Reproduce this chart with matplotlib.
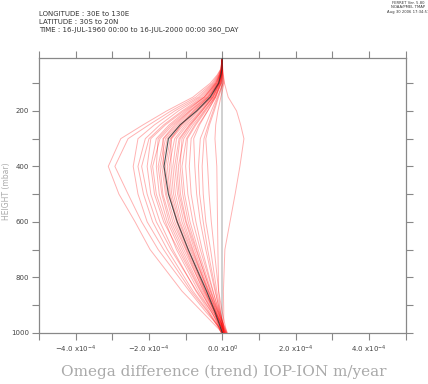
import matplotlib
matplotlib.use("Agg")
import matplotlib.pyplot as plt
import numpy as np

# pressure levels (mbar) for every profile
levels = [1000, 925, 850, 700, 600, 500, 400, 300, 250, 200, 150, 100, 70, 50, 10]

# omega difference trend profiles, units of 1e-4 m/year (one row per member)
profiles_e4 = [
    [0.00, -0.55, -1.10, -1.97, -2.38, -2.82, -3.11, -2.77, -2.16, -1.52, -0.80, -0.33, -0.14, -0.05, 0.0],
    [0.05, -0.45, -0.90, -1.75, -2.20, -2.57, -2.93, -2.57, -2.00, -1.40, -0.72, -0.28, -0.12, -0.04, 0.0],
    [0.02, -0.40, -0.85, -1.60, -2.05, -2.30, -2.43, -2.30, -1.85, -1.30, -0.65, -0.25, -0.10, -0.04, 0.0],
    [-0.02, -0.38, -0.80, -1.50, -1.90, -2.15, -2.30, -2.10, -1.70, -1.20, -0.60, -0.22, -0.09, -0.03, 0.0],
    [0.08, -0.30, -0.70, -1.40, -1.80, -2.05, -2.20, -2.00, -1.60, -1.10, -0.55, -0.20, -0.08, -0.03, 0.0],
    [0.00, -0.35, -0.72, -1.35, -1.70, -1.95, -2.05, -1.95, -1.55, -1.05, -0.50, -0.18, -0.07, -0.02, 0.0],
    [0.10, -0.25, -0.60, -1.20, -1.60, -1.85, -1.95, -1.80, -1.45, -1.00, -0.48, -0.16, -0.06, -0.02, 0.0],
    [0.03, -0.30, -0.65, -1.25, -1.55, -1.80, -1.90, -1.70, -1.35, -0.90, -0.45, -0.15, -0.06, -0.02, 0.0],
    [-0.03, -0.28, -0.58, -1.15, -1.50, -1.72, -1.80, -1.75, -1.40, -0.95, -0.50, -0.18, -0.07, -0.03, 0.0],
    [0.06, -0.25, -0.55, -1.10, -1.45, -1.65, -1.75, -1.60, -1.25, -0.85, -0.40, -0.12, -0.05, -0.02, 0.0],
    [0.12, -0.20, -0.50, -1.05, -1.40, -1.62, -1.70, -1.55, -1.20, -0.80, -0.38, -0.10, -0.04, -0.01, 0.0],
    [0.00, -0.22, -0.52, -1.00, -1.35, -1.55, -1.65, -1.50, -1.15, -0.75, -0.35, -0.11, -0.04, -0.02, 0.0],
    [0.04, -0.20, -0.48, -0.98, -1.30, -1.52, -1.60, -1.62, -1.30, -0.88, -0.42, -0.14, -0.06, -0.02, 0.0],
    [0.09, -0.18, -0.45, -0.95, -1.25, -1.45, -1.55, -1.42, -1.10, -0.72, -0.33, -0.08, -0.03, -0.01, 0.0],
    [-0.04, -0.22, -0.47, -0.92, -1.22, -1.42, -1.50, -1.38, -1.05, -0.68, -0.30, -0.09, -0.04, -0.01, 0.0],
    [0.05, -0.17, -0.42, -0.88, -1.18, -1.38, -1.45, -1.30, -1.00, -0.65, -0.30, -0.10, -0.04, -0.01, 0.0],
    [0.14, -0.12, -0.38, -0.85, -1.15, -1.33, -1.40, -1.40, -1.12, -0.78, -0.38, -0.12, -0.05, -0.02, 0.0],
    [0.02, -0.18, -0.40, -0.82, -1.10, -1.28, -1.35, -1.25, -0.95, -0.60, -0.28, -0.08, -0.03, -0.01, 0.0],
    [0.07, -0.15, -0.38, -0.80, -1.05, -1.22, -1.30, -1.18, -0.90, -0.58, -0.25, -0.06, -0.02, -0.01, 0.0],
    [0.00, -0.16, -0.36, -0.76, -1.00, -1.18, -1.25, -1.15, -0.88, -0.55, -0.25, -0.07, -0.03, -0.01, 0.0],
    [0.10, -0.10, -0.32, -0.72, -0.98, -1.14, -1.20, -1.05, -0.80, -0.50, -0.22, -0.04, -0.02, 0.00, 0.0],
    [0.03, -0.13, -0.33, -0.70, -0.93, -1.08, -1.15, -1.10, -0.85, -0.55, -0.26, -0.08, -0.03, -0.01, 0.0],
    [0.06, -0.12, -0.30, -0.66, -0.88, -1.03, -1.10, -0.98, -0.75, -0.48, -0.20, -0.03, -0.01, 0.00, 0.0],
    [0.11, -0.08, -0.26, -0.60, -0.80, -0.94, -1.00, -0.95, -0.72, -0.45, -0.20, -0.05, -0.02, 0.00, 0.0],
    [0.04, -0.10, -0.25, -0.55, -0.72, -0.85, -0.90, -0.85, -0.65, -0.40, -0.18, -0.02, -0.01, 0.00, 0.0],
    [0.08, -0.06, -0.20, -0.45, -0.60, -0.70, -0.75, -0.78, -0.62, -0.40, -0.18, -0.04, -0.02, 0.00, 0.0],
    [0.02, -0.08, -0.18, -0.40, -0.52, -0.62, -0.65, -0.60, -0.45, -0.30, -0.14, 0.02, 0.01, 0.00, 0.0],
    [0.05, -0.05, -0.15, -0.32, -0.45, -0.52, -0.55, -0.50, -0.38, -0.25, -0.12, 0.01, 0.00, 0.00, 0.0],
    [0.12, 0.00, -0.10, -0.22, -0.30, -0.36, -0.40, -0.45, -0.35, -0.22, -0.10, 0.03, 0.01, 0.00, 0.0],
    [0.05, -0.05, -0.10, -0.12, -0.13, -0.14, -0.15, -0.20, -0.18, -0.12, -0.04, 0.05, 0.02, 0.01, 0.0],
    [0.03, 0.04, 0.03, 0.07, 0.21, 0.35, 0.48, 0.59, 0.50, 0.39, 0.16, 0.06, 0.03, 0.01, 0.0],
]

# ensemble mean profile (dark line), units of 1e-4
mean_e4 = [0.00, -0.20, -0.43, -0.93, -1.23, -1.47, -1.59, -1.47, -1.15, -0.70, -0.33, -0.10, -0.04, -0.01, 0.0]

xticks = [-4e-4, -2e-4, 0.0, 2e-4, 4e-4]
xticklabels = [r"$-4.0\ \mathsf{x10^{-4}}$", r"$-2.0\ \mathsf{x10^{-4}}$", r"$0.0\ \mathsf{x10^{0}}$",
               r"$2.0\ \mathsf{x10^{-4}}$", r"$4.0\ \mathsf{x10^{-4}}$"]
yticks = [200, 400, 600, 800, 1000]

header = ["LONGITUDE : 30E to 130E",
          "LATITUDE : 30S to 20N",
          "TIME : 16-JUL-1960 00:00 to 16-JUL-2000 00:00 360_DAY"]
stamp = ["FERRET Ver. 5.80", "NOAA/PMEL TMAP", "Aug 30 2006 17:34:51"]

plt.rcParams["mathtext.fontset"] = "dejavusans"
AXC = "#888888"
W, H = 428, 384

fig = plt.figure(figsize=(W / 100, H / 100), dpi=100)
ax = fig.add_axes([39 / W, 1 - 332.7 / H, (405.6 - 39) / W, (332.7 - 58.3) / H])

ax.axvline(0, color="#d0d0d0", lw=1.4, zorder=1)
for prof in profiles_e4:
    ax.plot(np.array(prof) * 1e-4, levels, color="#ff0000", alpha=0.3, lw=0.7, zorder=2)
ax.plot(np.array(mean_e4) * 1e-4, levels, color="#333333", lw=0.8, alpha=0.85, zorder=3)

ax.set_xlim(-5e-4, 5e-4)
ax.set_ylim(1000, 10)
ax.set_xticks(np.arange(-5, 6) * 1e-4, minor=True)
ax.set_xticks(xticks)
ax.set_xticklabels(xticklabels, fontsize=5, color="#444444")
ax.set_yticks(np.arange(100, 1001, 100), minor=True)
ax.set_yticks(yticks)
ax.set_yticklabels([str(v) for v in yticks], fontsize=5, color="#444444")
ax.tick_params(which="both", direction="out", length=5, width=0.8, color=AXC,
               top=True, right=True, pad=2)
ax.tick_params(axis="x", which="both", pad=3)
for s in ax.spines.values():
    s.set_color(AXC)
    s.set_linewidth(0.9)

fig.text(7 / W, 1 - 191 / H, "HEIGHT (mbar)", fontsize=5.5, color="#aaaaaa",
         rotation=90, ha="center", va="center")

for i, line in enumerate(header):
    fig.text(39 / W, 1 - (14 + 8 * i) / H, line, fontsize=5, color="#333333",
             ha="left", va="center")
for i, line in enumerate(stamp):
    fig.text(408 / W, 1 - (3.5 + 4 * i) / H, line, fontsize=2.7, color="#333333",
             ha="center", va="center")

fig.text(224 / W, 1 - 372 / H, "Omega difference (trend) IOP-ION m/year",
         fontsize=11, color="#aaaaaa", ha="center", va="center", family="DejaVu Serif")

fig.savefig("out.png", dpi=100)
